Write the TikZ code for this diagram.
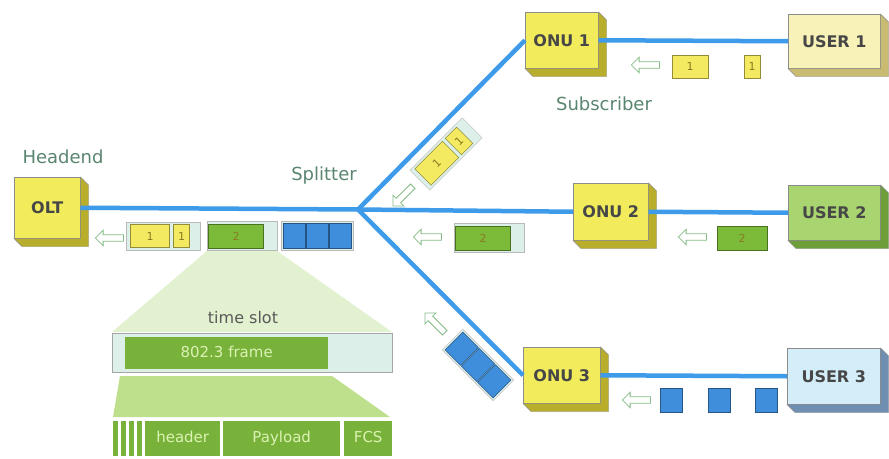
\documentclass[tikz,border=0pt]{standalone}
\usepackage{fontspec}
\setmainfont{DejaVu Sans}
\usetikzlibrary{calc,shapes.arrows}
\definecolor{yelF}{HTML}{F2EC5C}
\definecolor{yelS}{HTML}{B8AE2C}
\definecolor{uoneF}{HTML}{F8F2B8}
\definecolor{uoneS}{HTML}{C9BC72}
\definecolor{utwoF}{HTML}{A9D570}
\definecolor{utwoS}{HTML}{6E9E3A}
\definecolor{uthrF}{HTML}{D4EEF9}
\definecolor{uthrS}{HTML}{6F8FB2}
\definecolor{fiberc}{HTML}{3D9BE9}
\definecolor{pgreen}{HTML}{7CBA3A}
\definecolor{pyel}{HTML}{F4EA62}
\definecolor{pblue}{HTML}{3F8EDC}
\definecolor{pframe}{HTML}{DDEFE9}
\definecolor{arrowc}{HTML}{86BC86}
\definecolor{lblc}{HTML}{5A8670}
\definecolor{funA}{HTML}{E2F1D0}
\definecolor{funB}{HTML}{BEE08C}
\definecolor{fgreen}{HTML}{78B23A}
\definecolor{ftext}{HTML}{DCF2B4}
\definecolor{numc}{HTML}{8A7A20}
\newcommand{\blockside}[2]{%
  \fill[#2, draw=black!45, line width=0.4pt] (#1.north east) -- ++(8,8) -- ($(#1.south east)+(8,8)$) -- ($(#1.south west)+(8,8)$) -- (#1.south west) -- (#1.south east) -- cycle;}
\newcommand{\yelpacket}[3]{%
  \begin{scope}[shift={#2}, rotate=#3, transform shape]
    \node[pfr, minimum width=74pt, minimum height=28pt] (#1) at (0,0) {};
    \node[pin=pyel, minimum width=39pt, minimum height=23pt] (#1a) at (-13,0) {1};
    \node[pin=pyel, minimum width=16pt, minimum height=23pt] (#1b) at (18.5,0) {1};
  \end{scope}}
\newcommand{\greenpacket}[3]{%
  \begin{scope}[shift={#2}, rotate=#3, transform shape]
    \node[pfr, minimum width=70pt, minimum height=29pt] (#1) at (0,0) {};
    \node[pin=pgreen, minimum width=55pt, minimum height=24pt] (#1a) at (-6,0) {2};
  \end{scope}}
\newcommand{\bluepacket}[3]{%
  \begin{scope}[shift={#2}, rotate=#3, transform shape]
    \node[pfr, minimum width=72pt, minimum height=29pt] (#1) at (0,0) {};
    \node[pin=pblue, minimum width=22pt, minimum height=25pt] (#1a) at (-23,0) {};
    \node[pin=pblue, minimum width=22pt, minimum height=25pt] (#1b) at (0,0) {};
    \node[pin=pblue, minimum width=22pt, minimum height=25pt] (#1c) at (23,0) {};
  \end{scope}}
\begin{document}
\begin{tikzpicture}[x=1pt,y=-1pt,
  box/.style={rectangle, draw=black!45, line width=0.5pt, inner sep=0pt, anchor=north west,
    font=\bfseries\fontsize{16}{16}\selectfont, text=black!72},
  fib/.style={line width=4.5pt, draw=fiberc},
  pfr/.style={rectangle, draw=gray!55, line width=0.4pt, fill=pframe, inner sep=0pt},
  pin/.style={rectangle, fill=#1, draw=#1!60!black, line width=0.5pt, inner sep=0pt,
    font=\fontsize{11}{11}\selectfont, text=numc},
  larr/.style={single arrow, draw=arrowc, fill=white, line width=0.8pt, inner sep=2.8pt,
    minimum height=28pt, single arrow head extend=4.5pt},
  lab/.style={font=\fontsize{18}{18}\selectfont, text=lblc},
  fbox/.style={rectangle, fill=fgreen, inner sep=0pt, text=ftext, font=\fontsize{15}{15}\selectfont,
    text height=11pt, text depth=3pt},
  stripe/.style={rectangle, fill=fgreen, inner sep=0pt, minimum width=5pt, minimum height=35pt}
]
\useasboundingbox (0,0) rectangle (889,458);
\fill[white] (0,0) rectangle (889,458);

% funnels
\fill[funA] (207,251) -- (277,251) -- (392,332) -- (112,332) -- cycle;
\fill[funB] (120,376) -- (332,376) -- (390,417) -- (113,417) -- cycle;

% boxes
\node[box, fill=yelF, minimum width=66pt, minimum height=61pt] (olt) at (14,177) {OLT};
\node[box, fill=yelF, minimum width=73pt, minimum height=56pt] (onu1) at (525,12) {ONU 1};
\node[box, fill=yelF, minimum width=75pt, minimum height=57pt] (onu2) at (573,183) {ONU 2};
\node[box, fill=yelF, minimum width=77pt, minimum height=56pt] (onu3) at (523,347) {ONU 3};
\node[box, fill=uoneF, minimum width=92pt, minimum height=54pt] (user1) at (788,14) {USER 1};
\node[box, fill=utwoF, minimum width=92pt, minimum height=55pt] (user2) at (788,185) {USER 2};
\node[box, fill=uthrF, minimum width=93pt, minimum height=56pt] (user3) at (787,348) {USER 3};
\blockside{olt}{yelS}
\blockside{onu1}{yelS}
\blockside{onu2}{yelS}
\blockside{onu3}{yelS}
\blockside{user1}{uoneS}
\blockside{user2}{utwoS}
\blockside{user3}{uthrS}

% fibers
\coordinate (sp) at (358,209.5);
\draw[fib] (olt.east) -- (sp);
\draw[fib] (sp) -- (onu1.west);
\draw[fib] (sp) -- (onu2.west);
\draw[fib] (sp) -- (onu3.west);
\draw[fib] (onu1.east) -- (user1.west);
\draw[fib] (onu2.east) -- (user2.west);
\draw[fib] (onu3.east) -- (user3.west);

% labels
\node[lab] (headend) at (63,157) {Headend};
\node[lab] (splitter) at (324,176) {Splitter};
\node[lab] (subscr) at (604,104) {Subscriber};

% OLT row packets
\node[larr, shape border rotate=180] (ar0) at (111,238) {};
\yelpacket{pa}{(163,236)}{0}
\greenpacket{pb}{(242,236)}{0}
\bluepacket{pc}{(317,236)}{0}

% splitter-side packets
\node[larr, rotate=225] (ar1) at (404,195) {};
\yelpacket{pd}{(446,154)}{45}
\node[larr, shape border rotate=180] (ar2) at (429,237) {};
\greenpacket{pe}{(489,238)}{0}
\node[larr, rotate=135] (ar3) at (436,324) {};
\bluepacket{pf}{(478,365)}{-45}

% user-side packets
\node[larr, shape border rotate=180] (ar4) at (647,65) {};
\node[pin=pyel, minimum width=36pt, minimum height=23pt] (u1a) at (690,66.5) {1};
\node[pin=pyel, minimum width=16pt, minimum height=23pt] (u1b) at (752,66.5) {1};
\node[larr, shape border rotate=180] (ar5) at (694,237) {};
\node[pin=pgreen, minimum width=50pt, minimum height=24pt] (u2a) at (742,238) {2};
\node[larr, shape border rotate=180] (ar6) at (638,400) {};
\node[pin=pblue, minimum width=22pt, minimum height=24pt] (u3a) at (671,400) {};
\node[pin=pblue, minimum width=22pt, minimum height=24pt] (u3b) at (719,400) {};
\node[pin=pblue, minimum width=22pt, minimum height=24pt] (u3c) at (766,400) {};

% time slot
\node[font=\fontsize{16}{16}\selectfont, text=black!65] (tslbl) at (243,318) {time slot};
\node[rectangle, draw=gray!70, line width=0.5pt, fill=pframe, inner sep=0pt, anchor=north west,
  minimum width=280pt, minimum height=39pt] (tslot) at (112,333) {};
\node[fbox, anchor=north west, minimum width=203pt, minimum height=32pt] (frame) at (125,337) {802.3 frame};

% frame fields
\node[stripe, anchor=north west] (s1) at (113,421) {};
\node[stripe, anchor=north west] (s2) at (121,421) {};
\node[stripe, anchor=north west] (s3) at (129,421) {};
\node[stripe, anchor=north west] (s4) at (137,421) {};
\node[fbox, anchor=north west, minimum width=75pt, minimum height=35pt] (hdr) at (145,421) {header};
\node[fbox, anchor=north west, minimum width=117pt, minimum height=35pt] (pay) at (223,421) {Payload};
\node[fbox, anchor=north west, minimum width=48pt, minimum height=35pt] (fcs) at (344,421) {FCS};
\end{tikzpicture}
\end{document}
